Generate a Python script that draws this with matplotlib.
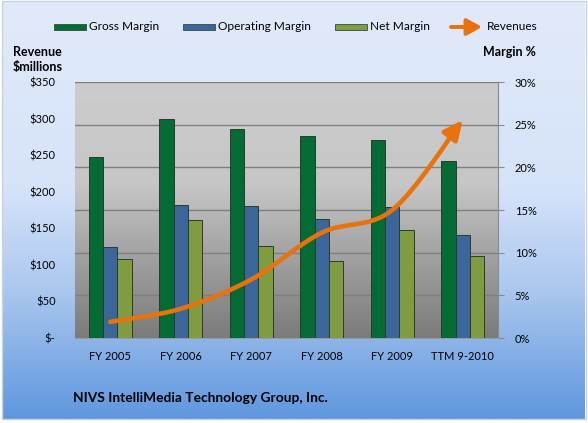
import numpy as np
import matplotlib
matplotlib.use("Agg")
import matplotlib.pyplot as plt
from matplotlib.path import Path
from matplotlib.patches import FancyArrowPatch, Rectangle
from matplotlib.colors import LinearSegmentedColormap

# ── data ──────────────────────────────────────────────────────────────────────
periods = ["FY 2005", "FY 2006", "FY 2007", "FY 2008", "FY 2009", "TTM 9-2010"]
gross_margin = [21.2, 25.7, 24.5, 23.7, 23.2, 20.8]       # %
operating_margin = [10.7, 15.6, 15.5, 14.0, 15.4, 12.1]   # %
net_margin = [9.2, 13.8, 10.8, 9.0, 12.7, 9.6]            # %
revenues = [22, 40, 80, 144, 175, 298]                   # $ millions

rev_ticks = [0, 50, 100, 150, 200, 250, 300, 350]
rev_labels = ["$-", "$50", "$100", "$150", "$200", "$250", "$300", "$350"]
pct_ticks = [0, 5, 10, 15, 20, 25, 30]

# ── styling ───────────────────────────────────────────────────────────────────
C_GROSS = "#036b33"
C_OPER = "#3b6699"
C_NET = "#809c41"
C_REV = "#e8720c"
FONT = "Lato"
FS = 8
W, H = 588, 423

plt.rcParams["font.family"] = [FONT, "DejaVu Sans"]
plt.rcParams["font.size"] = FS

fig = plt.figure(figsize=(W / 100, H / 100), dpi=100)
fig.patch.set_facecolor("white")

# background gradient panel (pixel coordinates, origin top-left)
bg = fig.add_axes([0, 0, 1, 1], zorder=-10)
bg.set_xlim(0, W)
bg.set_ylim(H, 0)
bg.axis("off")
bg_cmap = LinearSegmentedColormap.from_list(
    "bg", [(0, "#e1eaf9"), (0.45, "#d5e3fa"), (0.7, "#a9c6ee"), (1, "#5f97de")])
grad = np.linspace(0, 1, 256).reshape(-1, 1)
bg.imshow(grad, cmap=bg_cmap, aspect="auto", extent=(2, W - 3, H - 4, 2))
bg.add_patch(Rectangle((1.5, 1.5), W - 4, H - 5, fill=False, ec="#c8d2de", lw=1))

# main axes: margins (right scale)
x0, x1, y0, y1 = 75, 498, 82, 338
ax = fig.add_axes([x0 / W, 1 - y1 / H, (x1 - x0) / W, (y1 - y0) / H])
n = len(periods)
x = np.arange(n)
ax.set_xlim(-0.5, n - 0.5)
ax.set_ylim(0, 30)

plot_cmap = LinearSegmentedColormap.from_list(
    "plot", [(0, "#cccccc"), (0.4, "#c6c6c6"), (0.62, "#a9a9a9"), (1, "#7b7b7b")])
ax.imshow(grad, cmap=plot_cmap, aspect="auto", extent=(-0.5, n - 0.5, 0, 30), zorder=0)

series = [("Gross Margin", gross_margin, C_GROSS),
          ("Operating Margin", operating_margin, C_OPER),
          ("Net Margin", net_margin, C_NET)]
w = 0.205
for k, (lab, vals, col) in enumerate(series):
    ax.bar(x + (k - 1) * w, vals, w, color=col, edgecolor="#2b3a2b",
           linewidth=0.7, label=lab, zorder=3)

ax.set_xticks(x)
ax.set_xticklabels(periods)
ax.tick_params(axis="x", length=0, pad=9, labelsize=FS)
ax.yaxis.grid(True, color="#7f7f7f", linewidth=1)
ax.set_axisbelow(True)
for s in ["top", "left"]:
    ax.spines[s].set_visible(False)
ax.spines["right"].set_color("#8a8a8a")
ax.spines["bottom"].set_color("#9a9a9a")

# revenue axis (left scale)
ax2 = ax.twinx()
ax2.set_ylim(0, 350)
ax2.yaxis.tick_left()
ax2.yaxis.set_label_position("left")
ax2.set_yticks(rev_ticks)
ax2.set_yticklabels(rev_labels)
ax2.tick_params(axis="y", length=0, pad=14, labelsize=FS)
for s in ax2.spines.values():
    s.set_visible(False)

ax.yaxis.tick_right()
ax.set_yticks(pct_ticks)
ax.set_yticklabels([f"{t}%" for t in pct_ticks])
ax.tick_params(axis="y", direction="out", length=4, color="#8a8a8a", pad=8,
               labelsize=FS)

# smooth revenue curve (Catmull-Rom to cubic Bezier through data points)
px = np.asarray(x, float)
py = np.asarray(revenues, float)
verts = [(px[0], py[0])]
codes = [Path.MOVETO]
for i in range(n - 1):
    pm = (px[max(i - 1, 0)], py[max(i - 1, 0)])
    p0 = (px[i], py[i])
    p1 = (px[i + 1], py[i + 1])
    pp = (px[min(i + 2, n - 1)], py[min(i + 2, n - 1)])
    c1 = (p0[0] + (p1[0] - pm[0]) / 6, p0[1] + (p1[1] - pm[1]) / 6)
    c2 = (p1[0] - (pp[0] - p0[0]) / 6, p1[1] - (pp[1] - p0[1]) / 6)
    verts += [c1, c2, p1]
    codes += [Path.CURVE4] * 3
rev_path = Path(verts, codes)
arrow = FancyArrowPatch(path=rev_path, arrowstyle="-|>,head_length=0.95,head_width=0.45",
                        mutation_scale=12, color=C_REV, lw=3.3, capstyle="round",
                        zorder=5)
ax2.add_patch(arrow)

# ── legend, drawn in pixel coordinates on the background axes ────────────────
LEG_Y = 27
leg_x = [(54, 89), (183, 218), (335, 370)]
for (hx, tx), (lab, _, col) in zip(leg_x, series):
    bg.add_patch(Rectangle((hx, LEG_Y - 3), 32, 6, facecolor=col,
                           edgecolor="#3a4a3a", lw=0.6))
    bg.text(tx, LEG_Y, lab, fontsize=8.6, va="center", ha="left")
bg.add_patch(FancyArrowPatch((451, LEG_Y), (482, LEG_Y),
                             arrowstyle="-|>,head_length=0.9,head_width=0.5",
                             mutation_scale=10, color=C_REV, lw=2.8,
                             shrinkA=0, shrinkB=0))
bg.text(487, LEG_Y, "Revenues", fontsize=8.6, va="center", ha="left")

# axis titles and company name
bg.text(13, 52, "Revenue", fontweight="bold", fontsize=9, va="center")
bg.text(13, 67, "$millions", fontweight="bold", fontsize=9, va="center")
bg.text(536, 52, "Margin %", fontweight="bold", fontsize=9, va="center", ha="right")
bg.text(73, 398, "NIVS IntelliMedia Technology Group, Inc.",
        fontweight="bold", fontsize=9.9, va="center")

fig.savefig("out.png", dpi=100)
